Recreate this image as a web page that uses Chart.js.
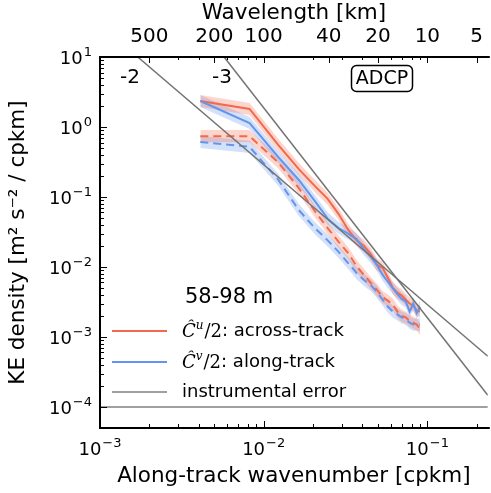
<!DOCTYPE html>
<html lang="en">
<head>
  <meta charset="UTF-8" />
  <title>KE spectra ADCP</title>
  <script src="https://cdn.jsdelivr.net/npm/chart.js"></script>
  <style>
    html, body { margin: 0; padding: 0; background: #fff; }
    #wrap { width: 491px; height: 493px; }
  </style>
</head>
<body>
  <div id="wrap"><canvas id="spec"></canvas></div>

  <script>
    // along-track wavenumber [cpkm]
    const wavenumber = [0.0041, 0.0082, 0.0123, 0.0164, 0.0205, 0.0246, 0.0287, 0.0328, 0.0369, 0.0410, 0.0451,
                        0.0492, 0.0533, 0.0574, 0.0615, 0.0656, 0.0697, 0.0738, 0.0779, 0.0820, 0.0861, 0.0902];

    // KE density [m2 s-2 / cpkm]
    const acrossSolid  = [2.35, 1.81, 0.55, 0.25, 0.144, 0.094, 0.057, 0.034, 0.024, 0.020, 0.0153,
                          0.0107, 0.0097, 0.0070, 0.0050, 0.0043, 0.0039, 0.0034, 0.0030, 0.0028, 0.0024, 0.0023];
    const alongSolid   = [2.35, 1.14, 0.37, 0.175, 0.088, 0.049, 0.036, 0.030, 0.025, 0.018, 0.0139,
                          0.0107, 0.0077, 0.0061, 0.0050, 0.0041, 0.0035, 0.0032, 0.0023, 0.0030, 0.0022, 0.0027];
    const acrossDashed = [0.74, 0.74, 0.31, 0.134, 0.063, 0.036, 0.0228, 0.0158, 0.0103, 0.0077, 0.0059,
                          0.0047, 0.0037, 0.0033, 0.0029, 0.0023, 0.0020, 0.0019, 0.0017, 0.0016, 0.0015, 0.0013];
    const alongDashed  = [0.61, 0.52, 0.175, 0.065, 0.036, 0.024, 0.0164, 0.0114, 0.0082, 0.0065, 0.0055,
                          0.0044, 0.0034, 0.0027, 0.0023, 0.0021, 0.0019, 0.0018, 0.0016, 0.0015, 0.0015, 0.0015];

    // confidence interval (multiplicative)
    const ciLow = 0.82;
    const ciHigh = 1.22;

    // reference slopes and noise floor
    const slope2K = [0.0017, 0.234];
    const slope2E = [10, 5.3e-4];
    const slope3K = [0.00573, 0.234];
    const slope3E = [10, 1.47e-4];
    const noiseK = [0.001, 0.234];
    const noiseE = [1e-4, 1e-4];

    // ticks
    const xTicks = [1e-3, 1e-2, 1e-1];
    const yTicks = [1e-4, 1e-3, 1e-2, 1e-1, 1, 10];
    const wavelengthTicks = [500, 200, 100, 40, 20, 10, 5];

    const RED = '#F4694C';
    const BLUE = '#6495ED';
    const RED_BAND = 'rgba(244,105,76,0.28)';
    const BLUE_BAND = 'rgba(100,149,237,0.28)';
    const SANS = '"DejaVu Sans"';

    const pts = (xs, ys) => xs.map((x, i) => ({ x: x, y: ys[i] }));
    const scaled = (ys, f) => ys.map(v => v * f);
    const expOf = v => String(Math.round(Math.log10(v))).replace('-', '\u2212');

    const datasets = [];
    function line(data, color, dash, width, order) {
      datasets.push({ data: data, borderColor: color, borderDash: dash, borderWidth: width,
                      pointRadius: 0, tension: 0, fill: false, order: order });
    }
    function band(ys, color) {
      const i = datasets.length;
      datasets.push({ data: pts(wavenumber, scaled(ys, ciHigh)), borderWidth: 0, pointRadius: 0,
                      backgroundColor: color, fill: i + 1, order: 10 });
      datasets.push({ data: pts(wavenumber, scaled(ys, ciLow)), borderWidth: 0, pointRadius: 0,
                      fill: false, order: 10 });
    }

    band(acrossSolid, RED_BAND);
    band(alongSolid, BLUE_BAND);
    band(acrossDashed, RED_BAND);
    band(alongDashed, BLUE_BAND);
    line(pts(wavenumber, acrossSolid), RED, [], 2, 5);
    line(pts(wavenumber, alongSolid), BLUE, [], 2, 4);
    line(pts(wavenumber, acrossDashed), RED, [8, 5], 2, 5);
    line(pts(wavenumber, alongDashed), BLUE, [8, 5], 2, 4);
    line(pts(slope2K, slope2E), '#737373', [], 1.5, 1);
    line(pts(slope3K, slope3E), '#737373', [], 1.5, 1);
    line(pts(noiseK, noiseE), '#a0a0a0', [], 2, 1);

    // power-of-ten label: "10" with a smaller raised exponent
    function powLabel(ctx, v, x, baseY, align) {
      ctx.font = '18px ' + SANS;
      const wb = ctx.measureText('10').width;
      ctx.font = '13px ' + SANS;
      const e = expOf(v);
      const we = ctx.measureText(e).width;
      let x0 = x;
      if (align === 'right') x0 = x - wb - we - 1;
      if (align === 'center') x0 = x - (wb + we + 1) / 2;
      ctx.textAlign = 'left';
      ctx.textBaseline = 'alphabetic';
      ctx.font = '18px ' + SANS;
      ctx.fillText('10', x0, baseY);
      ctx.font = '13px ' + SANS;
      ctx.fillText(e, x0 + wb + 1, baseY - 8);
    }

    // inward ticks, spines, tick labels, text annotations and legend
    const decor = {
      id: 'decor',
      afterDraw(chart) {
        const ctx = chart.ctx;
        const a = chart.chartArea;
        const xs = chart.scales.x, ys = chart.scales.y;
        ctx.save();
        ctx.strokeStyle = '#000';
        ctx.lineWidth = 1;

        const minors = [];
        for (let d = -4; d <= 1; d++) for (let m = 2; m <= 9; m++) minors.push(m * Math.pow(10, d));

        ctx.beginPath();
        xTicks.forEach(v => {
          const p = Math.round(xs.getPixelForValue(v)) + 0.5;
          ctx.moveTo(p, a.bottom); ctx.lineTo(p, a.bottom - 7);
        });
        wavelengthTicks.forEach(w => {
          const p = Math.round(xs.getPixelForValue(1 / w)) + 0.5;
          ctx.moveTo(p, a.top); ctx.lineTo(p, a.top + 6);
        });
        minors.forEach(v => {
          if (v < xs.min || v > xs.max) return;
          const p = Math.round(xs.getPixelForValue(v)) + 0.5;
          ctx.moveTo(p, a.bottom); ctx.lineTo(p, a.bottom - 4);
          ctx.moveTo(p, a.top); ctx.lineTo(p, a.top + 3);
        });
        yTicks.forEach(v => {
          const p = Math.round(ys.getPixelForValue(v)) + 0.5;
          ctx.moveTo(a.left, p); ctx.lineTo(a.left + 7, p);
        });
        minors.forEach(v => {
          if (v < ys.min || v > ys.max) return;
          const p = Math.round(ys.getPixelForValue(v)) + 0.5;
          ctx.moveTo(a.left, p); ctx.lineTo(a.left + 4, p);
        });
        ctx.stroke();

        // spines
        ctx.lineWidth = 2;
        ctx.beginPath();
        ctx.moveTo(a.right + 2, a.top); ctx.lineTo(a.left, a.top);
        ctx.lineTo(a.left, a.bottom); ctx.lineTo(a.right + 2, a.bottom);
        ctx.stroke();

        // tick labels
        ctx.fillStyle = '#000';
        xTicks.forEach(v => powLabel(ctx, v, xs.getPixelForValue(v), a.bottom + 27, 'center'));
        yTicks.forEach(v => powLabel(ctx, v, a.left - 8, ys.getPixelForValue(v) + 7, 'right'));

        // slope labels
        ctx.font = '20px ' + SANS;
        ctx.textBaseline = 'middle';
        ctx.textAlign = 'center';
        ctx.fillText('-2', 130, 78);
        ctx.fillText('-3', 222, 78);

        // ADCP box
        ctx.lineWidth = 1.5;
        ctx.beginPath();
        ctx.roundRect(351.5, 65.5, 61, 26, 5);
        ctx.fillStyle = '#fff';
        ctx.fill();
        ctx.stroke();
        ctx.fillStyle = '#000';
        ctx.font = '19px ' + SANS;
        ctx.fillText('ADCP', 382, 79);

        // legend
        ctx.textAlign = 'left';
        ctx.font = '21px ' + SANS;
        ctx.fillText('58-98 m', 185, 298);

        const entries = [
          { color: RED, y: 331, comp: 'u', label: ': across-track' },
          { color: BLUE, y: 362, comp: 'v', label: ': along-track' },
          { color: '#a0a0a0', y: 392, label: 'instrumental error' }
        ];
        entries.forEach(e => {
          ctx.strokeStyle = e.color;
          ctx.lineWidth = 2;
          ctx.beginPath();
          ctx.moveTo(112, e.y); ctx.lineTo(167, e.y);
          ctx.stroke();
          let x = 182;
          ctx.fillStyle = '#000';
          if (e.comp) {
            ctx.font = 'italic 18px "DejaVu Serif"';
            ctx.fillText('Ĉ', x, e.y + 1);
            x += ctx.measureText('Ĉ').width;
            ctx.font = 'italic 12px "DejaVu Serif"';
            ctx.fillText(e.comp, x, e.y - 5);
            x += ctx.measureText(e.comp).width + 1;
            ctx.font = '18px "DejaVu Serif"';
            ctx.fillText('/2', x, e.y + 1);
            x += ctx.measureText('/2').width;
          }
          ctx.font = '18px ' + SANS;
          ctx.fillText(e.label, x, e.y);
        });
        ctx.restore();
      }
    };

    new Chart(document.getElementById('spec'), {
      type: 'line',
      data: { datasets: datasets },
      options: {
        responsive: true,
        maintainAspectRatio: false,
        animation: false,
        layout: { padding: 0 },
        plugins: { legend: { display: false }, tooltip: { enabled: false } },
        scales: {
          x: {
            type: 'logarithmic', position: 'bottom', min: 0.001, max: 0.234,
            afterBuildTicks: s => { s.ticks = xTicks.map(v => ({ value: v })); },
            afterFit: s => { s.height = 65; },
            grid: { display: false, drawTicks: false },
            border: { display: false },
            ticks: { display: false },
            title: { display: true, text: 'Along-track wavenumber [cpkm]', color: '#000',
                     font: { family: 'DejaVu Sans', size: 21.5 }, padding: { top: 0, bottom: 4 } }
          },
          x2: {
            type: 'logarithmic', position: 'top', min: 0.001, max: 0.234,
            afterBuildTicks: s => { s.ticks = wavelengthTicks.map(w => ({ value: 1 / w })); },
            afterFit: s => { s.height = 57; },
            grid: { display: false, drawTicks: false },
            border: { display: false },
            ticks: { callback: v => String(Math.round(1 / v)), font: { family: 'DejaVu Sans', size: 20 },
                     color: '#000', padding: 8, maxRotation: 0, autoSkip: false },
            title: { display: true, text: 'Wavelength [km]', color: '#000',
                     font: { family: 'DejaVu Sans', size: 21.5 }, padding: { top: 1, bottom: 0 } }
          },
          y: {
            type: 'logarithmic', min: 5e-5, max: 10,
            afterBuildTicks: s => { s.ticks = yTicks.map(v => ({ value: v })); },
            afterFit: s => { s.width = 100; },
            grid: { display: false, drawTicks: false },
            border: { display: false },
            ticks: { display: false },
            title: { display: true, text: 'KE density [m² s⁻² / cpkm]', color: '#000',
                     font: { family: 'DejaVu Sans', size: 21.5 }, padding: { top: 6, bottom: 0 } }
          }
        }
      },
      plugins: [decor]
    });
  </script>
</body>
</html>
